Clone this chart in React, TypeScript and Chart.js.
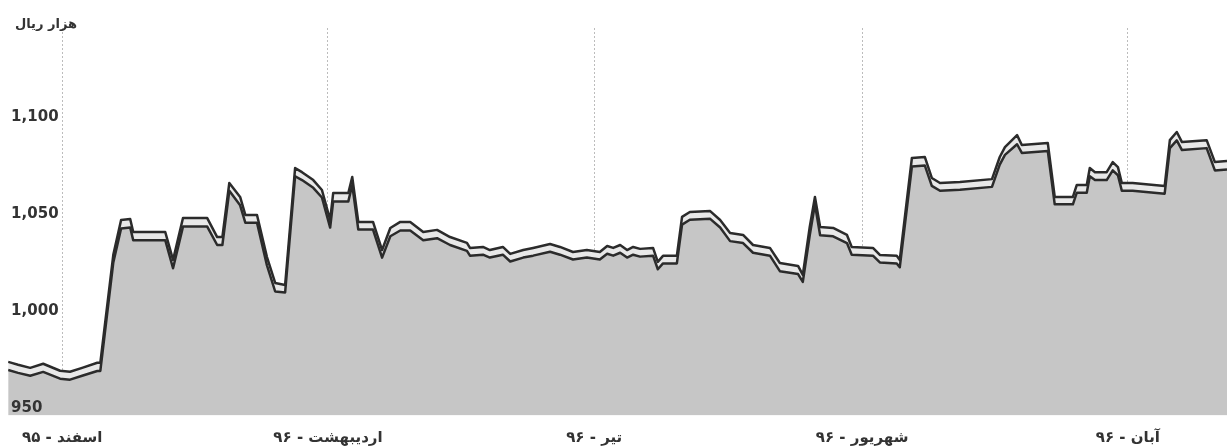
import React, { useEffect, useRef } from "react";
import { Chart, registerables } from "chart.js";

Chart.register(...registerables);

// x = days counted from 1 Esfand 1395
const days = [
  -12.5, -10.2, -7.4, -4.4, -0.5, 1.8, 4.6, 8.1, 8.8, 11.8, 13.6, 15.7, 16.4, 23.8, 25.6, 27.9,
  33.5, 35.8, 37.0, 38.6, 41.1, 42.3, 45.0, 47.3, 49.2, 51.5, 53.8, 55.4, 58.0, 60.0, 61.9, 62.6,
  66.1, 67.0, 68.4, 71.8, 73.9, 75.8, 78.1, 80.4, 83.4, 86.6, 89.6, 93.5, 94.2, 97.2, 98.8, 101.8,
  103.5, 106.5, 108.8, 112.7, 115.0, 118.0, 121.2, 124.2, 125.9, 127.3, 128.9, 130.5, 131.9, 133.5,
  136.5, 137.6, 138.8, 142.0, 143.2, 145.0, 149.7, 152.0, 154.3, 157.3, 159.6, 163.5, 165.8, 170.0,
  171.1, 172.7, 173.9, 175.1, 178.1, 181.3, 182.4, 187.3, 188.9, 192.8, 193.5, 196.3, 199.3, 200.9,
  202.8, 207.4, 214.8, 216.6, 217.8, 220.6, 221.7, 227.7, 229.3, 233.5, 234.4, 236.7, 237.4, 238.6,
  241.3, 242.7, 243.9, 244.8, 247.3, 254.7, 255.9, 257.5, 258.7, 264.4, 266.3, 269.1,
];

const upperValues = [
  973.7, 972.2, 970.6, 972.7, 969.1, 968.6, 970.6, 973.2, 973.2, 1028.9, 1046.9, 1047.4, 1040.7, 1040.7, 1026.3, 1047.9,
  1047.9, 1038.1, 1038.1, 1066.0, 1058.8, 1049.5, 1049.5, 1027.8, 1014.4, 1013.4, 1073.7, 1071.6, 1067.5, 1062.4, 1046.9, 1060.8,
  1060.8, 1069.1, 1045.9, 1045.9, 1031.4, 1042.8, 1045.9, 1045.9, 1040.7, 1041.8, 1038.1, 1035.1, 1032.5, 1033.0, 1031.4, 1033.0,
  1029.4, 1031.4, 1032.5, 1034.5, 1033.0, 1030.4, 1031.4, 1030.4, 1033.5, 1032.5, 1034.0, 1031.4, 1033.0, 1032.0,
  1032.5, 1025.3, 1028.4, 1028.4, 1048.5, 1051.0, 1051.5, 1046.9, 1040.2, 1039.2, 1034.0, 1032.5, 1024.7, 1023.2,
  1018.6, 1043.3, 1058.8, 1043.3, 1042.8, 1039.2, 1033.0, 1032.5, 1028.9, 1028.4, 1026.3, 1078.9, 1079.4, 1068.6,
  1066.0, 1066.5, 1068.0, 1079.4, 1084.5, 1090.7, 1085.6, 1086.6, 1058.8, 1058.8, 1065.0, 1065.0, 1073.7, 1071.6,
  1071.6, 1076.8, 1074.2, 1066.0, 1066.0, 1064.4, 1088.1, 1092.3, 1087.1, 1088.1, 1076.8, 1077.3,
];

const lowerValues = [
  969.5, 968.0, 966.5, 968.5, 965.0, 964.5, 966.5, 969.0, 969.0, 1025.0, 1042.5, 1043.0, 1036.5, 1036.5, 1022.0, 1043.5,
  1043.5, 1034.0, 1034.0, 1062.0, 1054.5, 1045.5, 1045.5, 1023.5, 1010.0, 1009.5, 1069.5, 1067.5, 1063.5, 1058.5, 1043.0, 1056.5,
  1056.5, 1065.0, 1042.0, 1042.0, 1027.5, 1038.5, 1041.5, 1041.5, 1036.5, 1037.5, 1034.0, 1031.0, 1028.5, 1029.0, 1027.5, 1029.0,
  1025.5, 1027.5, 1028.5, 1030.5, 1029.0, 1026.5, 1027.5, 1026.5, 1029.5, 1028.5, 1030.0, 1027.5, 1029.0, 1028.0,
  1028.5, 1021.5, 1024.5, 1024.5, 1044.5, 1047.0, 1047.5, 1043.0, 1036.0, 1035.0, 1030.0, 1028.5, 1020.5, 1019.0,
  1015.0, 1039.0, 1055.0, 1039.0, 1038.5, 1035.0, 1029.0, 1028.5, 1025.0, 1024.5, 1022.5, 1074.5, 1075.0, 1064.5,
  1062.0, 1062.5, 1064.0, 1075.5, 1080.5, 1086.0, 1081.5, 1082.5, 1055.0, 1055.0, 1061.0, 1061.0, 1069.5, 1067.5,
  1067.5, 1072.5, 1070.0, 1062.0, 1062.0, 1060.5, 1084.0, 1088.0, 1083.0, 1084.0, 1072.5, 1073.0,
];

const monthTickDays = [0, 61.4, 122.9, 184.8, 246.2];
const monthLabels = ["اسفند - ۹۵", "اردیبهشت - ۹۶", "تیر - ۹۶", "شهریور - ۹۶", "آبان - ۹۶"];
const yTickValues = [950, 1000, 1050, 1100];
const yTickLabels = ["950", "1,000", "1,050", "1,100"];
const unitTitle = "هزار ریال";

export default function App() {
  const canvasRef = useRef<HTMLCanvasElement | null>(null);

  useEffect(() => {
    if (!canvasRef.current) return;
    const lowerPts = days.map((d, i) => ({ x: d, y: lowerValues[i] }));
    const upperPts = days.map((d, i) => ({ x: d, y: upperValues[i] }));

    const titlePlugin = {
      id: "unitTitle",
      afterDraw(chart: any) {
        const ctx = chart.ctx;
        ctx.save();
        ctx.font = 'bold 13px "DejaVu Sans"';
        ctx.fillStyle = "#333";
        ctx.textAlign = "right";
        ctx.textBaseline = "middle";
        ctx.fillText(unitTitle, 69, 17);
        ctx.restore();
      },
    };

    const chart = new Chart(canvasRef.current, {
      type: "line",
      data: {
        datasets: [
          {
            data: lowerPts,
            borderColor: "#2b2b2b",
            borderWidth: 2.5,
            backgroundColor: "#c6c6c6",
            fill: "start",
            pointRadius: 0,
            tension: 0,
            borderJoinStyle: "round",
          },
          {
            data: upperPts,
            borderColor: "#2b2b2b",
            borderWidth: 2.5,
            backgroundColor: "#e8e8e8",
            fill: "-1",
            pointRadius: 0,
            tension: 0,
            borderJoinStyle: "round",
          },
        ],
      },
      options: {
        animation: false,
        responsive: true,
        maintainAspectRatio: false,
        layout: { padding: { top: 20, bottom: -13.5, left: -6, right: 0 } },
        plugins: {
          legend: { display: false },
          tooltip: { enabled: false },
          title: { display: false },
        },
        scales: {
          x: {
            type: "linear",
            min: -12.5,
            max: 269.1,
            afterBuildTicks: (axis: any) => {
              axis.ticks = monthTickDays.map((v) => ({ value: v }));
            },
            grid: {
              color: "#bcbcbc",
              lineWidth: 1,
              drawTicks: false,
            },
            border: { display: false, dash: [2, 2] },
            ticks: {
              autoSkip: false,
              maxRotation: 0,
              padding: 14,
              color: "#333",
              font: { family: "DejaVu Sans", size: 15, weight: "bold", lineHeight: 1.2 },
              callback: (value: any) => {
                const idx = monthTickDays.indexOf(Number(value));
                return idx >= 0 ? monthLabels[idx] : "";
              },
            },
          },
          y: {
            type: "linear",
            position: "left",
            min: 946,
            max: 1146,
            afterBuildTicks: (axis: any) => {
              axis.ticks = yTickValues.map((v) => ({ value: v }));
            },
            grid: { display: false, drawTicks: false },
            border: { display: false },
            ticks: {
              z: 1,
              mirror: true,
              autoSkip: false,
              padding: 3,
              color: "#333",
              font: { family: "DejaVu Sans", size: 15, weight: "bold" },
              callback: (value: any) => {
                const idx = yTickValues.indexOf(Number(value));
                return idx >= 0 ? yTickLabels[idx] : "";
              },
            },
          },
        },
      },
      plugins: [titlePlugin],
    });

    return () => chart.destroy();
  }, []);

  return (
    <div style={{ position: "absolute", left: 8, top: 8, width: 1219, height: 440 }}>
      <canvas ref={canvasRef} />
    </div>
  );
}
